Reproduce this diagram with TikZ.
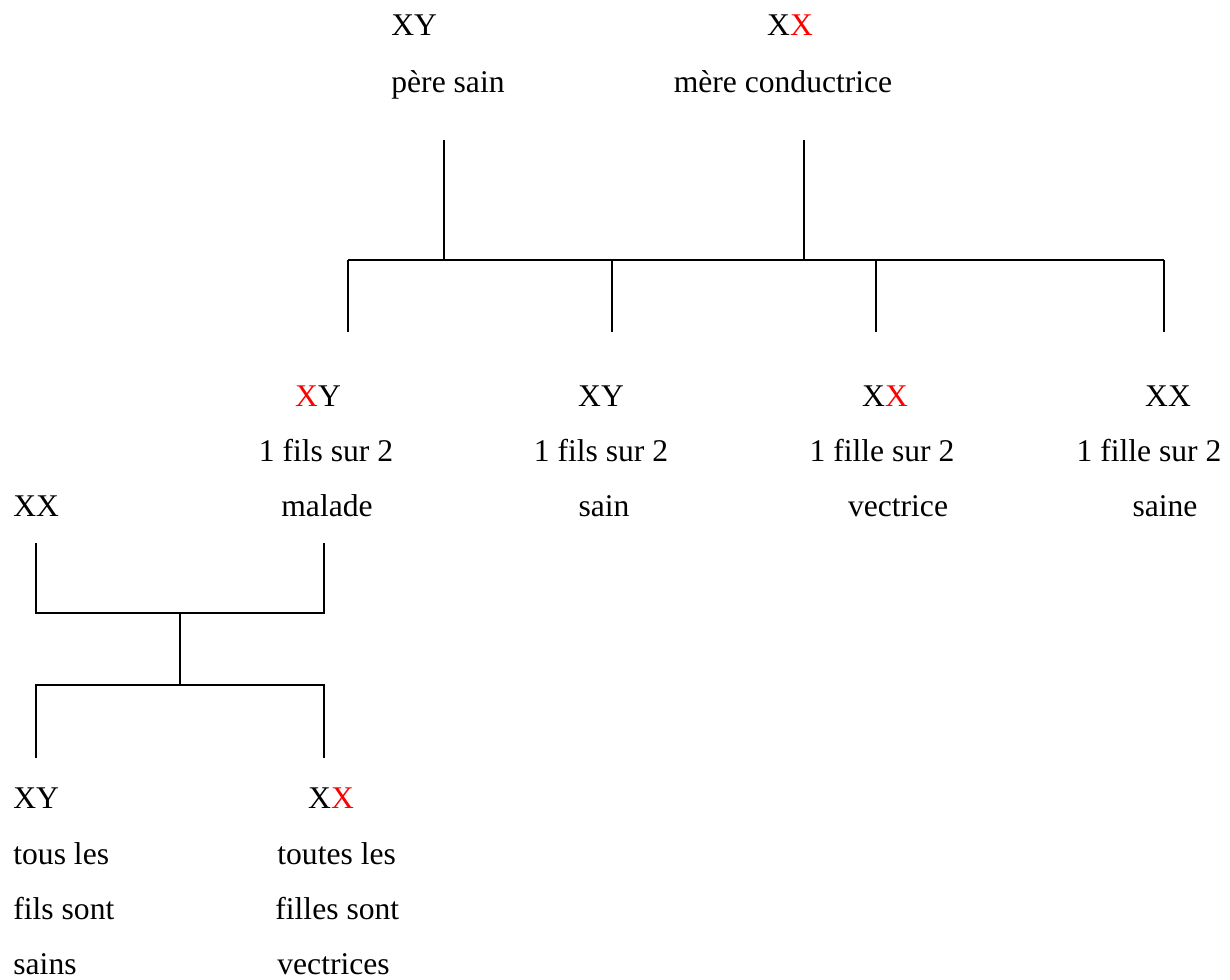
\documentclass[tikz,border=0pt]{standalone}
\usepackage{fontspec}
\setmainfont{Liberation Serif}
\begin{document}
\begin{tikzpicture}[x=0.5pt,y=-0.5pt,
  lbl/.style={anchor=base west,inner sep=0pt,font=\fontsize{15.8}{18}\selectfont},
  lblc/.style={anchor=base,inner sep=0pt,font=\fontsize{15.8}{18}\selectfont},
  link/.style={line width=0.8pt}]
\useasboundingbox (0,0) rectangle (1230,979);
\newcommand{\rX}{\textcolor{red}{X}}
% top generation
\node[lbl] (pg) at (391,36) {XY};
\node[lbl] (pt) at (391,92) {père sain};
\node[lblc] (mg) at (790,36) {X\rX};
\node[lblc] (mt) at (783,92) {mère conductrice};
% lines
\coordinate (p1) at (444,140); \coordinate (p2) at (444,260);
\coordinate (m1) at (804,140); \coordinate (m2) at (804,260);
\coordinate (hL) at (348,260); \coordinate (hR) at (1164,260);
\coordinate (c1) at (612,260); \coordinate (c2) at (876,260);
\coordinate (d1) at (348,332); \coordinate (d2) at (612,332);
\coordinate (d3) at (876,332); \coordinate (d4) at (1164,332);
\draw[link] (p1) -- (p2);
\draw[link] (m1) -- (m2);
\draw[link] (hL) -- (hR);
\draw[link] (hL) -- (d1);
\draw[link] (c1) -- (d2);
\draw[link] (c2) -- (d3);
\draw[link] (hR) -- (d4);
% second generation
\node[lblc] (a1) at (318,406) {\rX Y};
\node[lblc] (a2) at (326,461) {1 fils sur 2};
\node[lblc] (a3) at (327,516) {malade};
\node[lblc] (b1) at (601,406) {XY};
\node[lblc] (b2) at (601,461) {1 fils sur 2};
\node[lblc] (b3) at (604,516) {sain};
\node[lblc] (e1) at (885,406) {X\rX};
\node[lblc] (e2) at (882,461) {1 fille sur 2};
\node[lblc] (e3) at (898,516) {vectrice};
\node[lblc] (f1) at (1168,406) {XX};
\node[lblc] (f2) at (1149,461) {1 fille sur 2};
\node[lblc] (f3) at (1165,516) {saine};
\node[lbl] (g) at (13,516) {XX};
% second cross
\coordinate (s1) at (36,543); \coordinate (s2) at (36,613);
\coordinate (t1) at (324,543); \coordinate (t2) at (324,613);
\coordinate (u1) at (180,613); \coordinate (u2) at (180,685);
\coordinate (v1) at (36,685); \coordinate (v2) at (324,685);
\coordinate (w1) at (36,758); \coordinate (w2) at (324,758);
\draw[link] (s1) -- (s2) -- (t2) -- (t1);
\draw[link] (u1) -- (u2);
\draw[link] (w1) -- (v1) -- (v2) -- (w2);
% third generation
\node[lbl] (h1) at (13,808) {XY};
\node[lbl] (h2) at (13,864) {tous les};
\node[lbl] (h3) at (13,919) {fils sont};
\node[lbl] (h4) at (13,974) {sains};
\node[lblc] (k1) at (331,808) {X\rX};
\node[lbl] (k2) at (277,864) {toutes les};
\node[lbl] (k3) at (275,919) {filles sont};
\node[lbl] (k4) at (277,974) {vectrices};
\end{tikzpicture}
\end{document}
